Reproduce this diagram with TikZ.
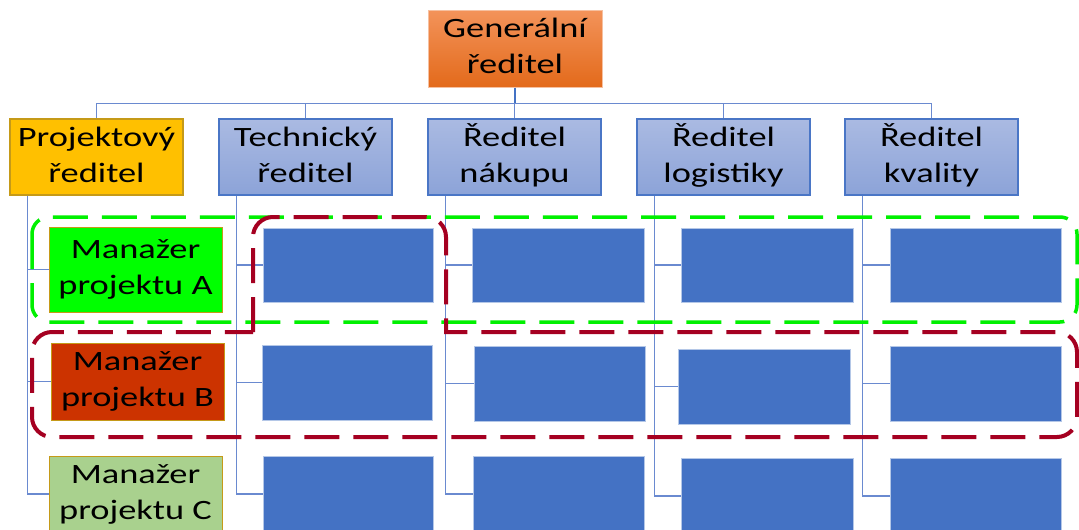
\documentclass[tikz,border=0pt]{standalone}
\usepackage{fontspec}
\setmainfont{Carlito}[FakeStretch=1.3]
\usetikzlibrary{calc}

\definecolor{orgTop}{HTML}{F3935A}
\definecolor{orgBot}{HTML}{E36A1B}
\definecolor{orgEdge}{HTML}{F6C0A0}
\definecolor{hdTop}{HTML}{AABAE2}
\definecolor{hdBot}{HTML}{8CA3D8}
\definecolor{hdEdge}{HTML}{4A76C6}
\definecolor{cellBlue}{HTML}{4472C4}
\definecolor{cellEdge}{HTML}{B4C7E7}
\definecolor{gold}{HTML}{FFC000}
\definecolor{goldEdge}{HTML}{C59A18}
\definecolor{pmA}{HTML}{00FF00}
\definecolor{pmB}{HTML}{CC3300}
\definecolor{pmC}{HTML}{A9D18E}
\definecolor{lineBlue}{HTML}{6A8AD0}
\definecolor{grpGreen}{HTML}{00F000}
\definecolor{grpRed}{HTML}{A50021}

\tikzset{
  lbl/.style={inner sep=0pt, align=center, text=black,
    font=\fontsize{28pt}{36pt}\selectfont},
  ceo/.style={lbl, draw=orgEdge, line width=1pt, top color=orgTop, bottom color=orgBot,
    minimum width=174pt, minimum height=77pt},
  head/.style={lbl, draw=hdEdge, line width=1.2pt, top color=hdTop, bottom color=hdBot,
    minimum width=173pt, minimum height=76pt},
  pmbox/.style={lbl, draw=goldEdge, line width=1pt, minimum width=173pt},
  cell/.style={draw=cellEdge, line width=0.8pt, fill=cellBlue, inner sep=0pt},
  bus/.style={draw=lineBlue, line width=1.4pt},
  feed/.style={draw=lineBlue, line width=1.1pt},
  grpline/.style={line width=#1, dash pattern=on 35pt off 14pt, line cap=butt}
}

\begin{document}
\begin{tikzpicture}[x=1pt, y=-1pt]
\clip (0,0) rectangle (1079,530);
\fill[white] (0,0) rectangle (1079,530);

% top management
\node[ceo] (gr) at (515,48.5) {\strut Generální\\ředitel\strut};

% second level
\node[head, draw=goldEdge, fill=gold, top color=gold, bottom color=gold] (pr) at (96.5,157) {\strut Projektový\\ředitel\strut};
\node[head] (tr) at (305.5,157) {\strut Technický\\ředitel\strut};
\node[head] (nr) at (514.5,157) {\strut Ředitel\\nákupu\strut};
\node[head] (lr) at (723.5,157) {\strut Ředitel\\logistiky\strut};
\node[head] (kr) at (931.5,157) {\strut Ředitel\\kvality\strut};

% project managers
\node[pmbox, fill=pmA, minimum height=85pt] (ma) at (135.5,269.5) {\strut Manažer\\projektu A\strut};
\node[pmbox, fill=pmB, minimum height=77pt] (mb) at (137.5,381.5) {\strut Manažer\\projektu B\strut};
\node[pmbox, fill=pmC, minimum height=76pt] (mc) at (135.5,494) {\strut Manažer\\projektu C\strut};

% staff cells
\node[cell, minimum width=170pt, minimum height=74pt] (a1) at (348,265) {};
\node[cell, minimum width=172pt, minimum height=74pt] (a2) at (558,265) {};
\node[cell, minimum width=172pt, minimum height=74pt] (a3) at (767,265) {};
\node[cell, minimum width=171pt, minimum height=74pt] (a4) at (975.5,265) {};
\node[cell, minimum width=170pt, minimum height=75pt] (b1) at (347,382.5) {};
\node[cell, minimum width=171pt, minimum height=75pt] (b2) at (559.5,383.5) {};
\node[cell, minimum width=172pt, minimum height=75pt] (b3) at (764,386.5) {};
\node[cell, minimum width=171pt, minimum height=75pt] (b4) at (975.5,383.5) {};
\node[cell, minimum width=170pt, minimum height=76pt] (c1) at (348,494) {};
\node[cell, minimum width=171pt, minimum height=76pt] (c2) at (558.5,494) {};
\node[cell, minimum width=172pt, minimum height=76pt] (c3) at (767,496) {};
\node[cell, minimum width=171pt, minimum height=76pt] (c4) at (975.5,496) {};

% reporting lines from the top
\coordinate (bus) at ($(gr.south)+(0,16)$);
\draw[bus, draw=cellBlue, line width=1.8pt] (gr.south) -- (bus);
\foreach \h in {pr,tr,nr,lr,kr}{
  \draw[bus] (bus) -| (\h.north);
}

% reporting lines down each column
\foreach \h/\r in {pr/ma,pr/mb,pr/mc,tr/a1,tr/b1,tr/c1,nr/a2,nr/b2,nr/c2,lr/a3,lr/b3,lr/c3,kr/a4,kr/b4,kr/c4}{
  \draw[feed] ($(\h.south west)+(18,0)$) |- (\r.west);
}

% project team A
\draw[grpline=3.5pt, draw=grpGreen, rounded corners=17pt] (32,217) rectangle (1077,322);

% project team B (round corners drawn as quarter-circle curves)
\draw[grpline=4pt, draw=grpRed]
  (253,332) -- (253,237) .. controls (253,226) and (262,217) .. (273,217)
  -- (426,217) .. controls (437,217) and (446,226) .. (446,237)
  -- (446,332) -- (1057,332) .. controls (1068,332) and (1077,341) .. (1077,352)
  -- (1077,417) .. controls (1077,428) and (1068,437) .. (1057,437)
  -- (52,437) .. controls (41,437) and (32,428) .. (32,417)
  -- (32,352) .. controls (32,341) and (41,332) .. (52,332) -- cycle;
\end{tikzpicture}
\end{document}
